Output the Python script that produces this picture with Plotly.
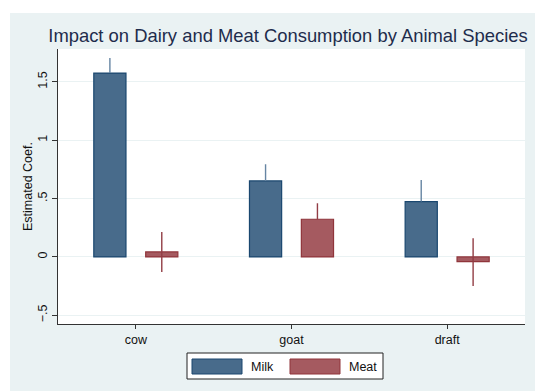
import numpy as np
import plotly.graph_objects as go

# Estimated coefficients with 95% confidence bounds
species = ["cow", "goat", "draft"]
milk_coef = [1.575, 0.651, 0.474]
milk_hi = [1.704, 0.794, 0.659]
milk_lo = [1.446, 0.508, 0.289]
meat_coef = [0.043, 0.323, -0.040]
meat_hi = [0.214, 0.460, 0.160]
meat_lo = [-0.128, 0.186, -0.248]
ytick_vals = [-0.5, 0, 0.5, 1, 1.5]
ytick_text = ["\u2212.5", "0", ".5", "1", "1.5"]

FONT = "Liberation Sans, Arial, sans-serif"
BG = "#eaf2f3"
MILK_FILL, MILK_LINE, MILK_ERR = "#486b8b", "#1a476f", "#6685a3"
MEAT_FILL, MEAT_LINE, MEAT_ERR = "#a55a60", "#90353b", "#923d45"

idx = np.arange(len(species))
x_milk = 3 * idx + 1
x_meat = 3 * idx + 2
x_center = 3 * idx + 1.5


def err_arrays(coef, hi, lo):
    coef, hi, lo = map(np.asarray, (coef, hi, lo))
    plus = hi - coef
    # the lower part is only shown when the interval crosses zero
    minus = np.where(lo < 0, coef - lo, 0.0)
    return plus, minus


fig = go.Figure()
for name, xs, coef, hi, lo, fill, line, errc in [
    ("Milk", x_milk, milk_coef, milk_hi, milk_lo, MILK_FILL, MILK_LINE, MILK_ERR),
    ("Meat", x_meat, meat_coef, meat_hi, meat_lo, MEAT_FILL, MEAT_LINE, MEAT_ERR),
]:
    plus, minus = err_arrays(coef, hi, lo)
    fig.add_trace(go.Bar(
        name=name, x=xs, y=coef, width=0.62,
        marker=dict(color=fill, line=dict(color=line, width=1.2)),
        error_y=dict(type="data", symmetric=False, array=plus, arrayminus=minus,
                     color=errc, thickness=1.4, width=0),
        showlegend=False,
    ))

W, H = 535, 391
ml, mr, mt, mb = 58, 10, 49, 67
pw, ph = W - ml - mr, H - mt - mb


def px(x):
    return (x - ml) / pw


def py(y):
    return 1 - (y - mt) / ph


shapes = [
    # white page border around the graph region
    dict(type="rect", xref="paper", yref="paper",
         x0=px(-5), x1=px(10), y0=py(H + 5), y1=py(-5),
         fillcolor="white", line=dict(width=0)),
    dict(type="rect", xref="paper", yref="paper",
         x0=px(-5), x1=px(W + 5), y0=py(13), y1=py(-5),
         fillcolor="white", line=dict(width=0)),
    # legend box
    dict(type="rect", xref="paper", yref="paper",
         x0=px(187), x1=px(383), y0=py(379), y1=py(353),
         fillcolor="white", line=dict(color="#222222", width=1)),
    dict(type="rect", xref="paper", yref="paper",
         x0=px(192), x1=px(242), y0=py(374), y1=py(359),
         fillcolor=MILK_FILL, line=dict(color=MILK_LINE, width=1)),
    dict(type="rect", xref="paper", yref="paper",
         x0=px(290), x1=px(340), y0=py(374), y1=py(359),
         fillcolor=MEAT_FILL, line=dict(color=MEAT_LINE, width=1)),
]

annotations = [
    dict(text="Milk", xref="paper", yref="paper", x=px(249), y=py(366.5),
         xanchor="left", yanchor="middle", showarrow=False,
         font=dict(family=FONT, size=12.5, color="#111111")),
    dict(text="Meat", xref="paper", yref="paper", x=px(347), y=py(366.5),
         xanchor="left", yanchor="middle", showarrow=False,
         font=dict(family=FONT, size=12.5, color="#111111")),
]

fig.update_layout(
    width=W, height=H,
    margin=dict(l=ml, r=mr, t=mt, b=mb),
    paper_bgcolor=BG, plot_bgcolor="white",
    barmode="overlay",
    title=dict(text="Impact on Dairy and Meat Consumption by Animal Species",
               x=px(288), xref="paper", xanchor="center",
               y=1 - 36 / H, yref="container", yanchor="middle",
               font=dict(family=FONT, size=18.4, color="#1e2c4c")),
    shapes=shapes, annotations=annotations,
    xaxis=dict(range=[0, 9], tickmode="array", tickvals=x_center, ticktext=species,
               showgrid=False, zeroline=False, showline=True, linecolor="#333333",
               linewidth=1, ticks="outside", ticklen=4, tickcolor="#333333",
               tickfont=dict(family=FONT, size=12.5, color="#111111")),
    yaxis=dict(range=[-0.574, 1.781], tickmode="array", tickvals=ytick_vals,
               ticktext=ytick_text, tickangle=-90,
               showgrid=True, gridcolor=BG, gridwidth=1, zeroline=False,
               showline=True, linecolor="#333333", linewidth=1,
               ticks="outside", ticklen=5, tickcolor="#333333",
               tickfont=dict(family=FONT, size=12.5, color="#111111"),
               title=dict(text="Estimated Coef.", standoff=0,
                          font=dict(family=FONT, size=12.5, color="#111111"))),
)

fig.write_html("out.html")
